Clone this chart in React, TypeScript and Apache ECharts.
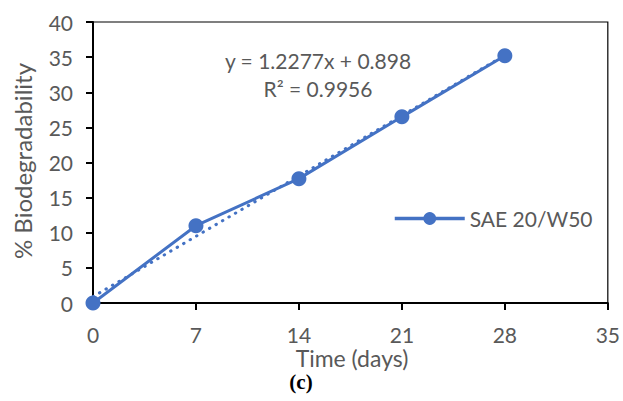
import React, { useEffect, useRef } from "react";
import * as echarts from "echarts";

const days = [0, 7, 14, 21, 28];
const biodeg = [0, 11.0, 17.7, 26.5, 35.2];
const trendX = [0, 28];
const trendY = [0.898, 35.274];
const seriesName = "SAE 20/W50";
const equationText = "y = 1.2277x + 0.898";
const r2Text = "R² = 0.9956";

const FONT = "Lato, 'Open Sans', sans-serif";
const GRAY = "#595959";
const BLUE = "#4472C4";

export default function App() {
  const ref = useRef<HTMLDivElement>(null);
  useEffect(() => {
    if (!ref.current) return;
    const chart = echarts.init(ref.current, undefined, { renderer: "svg" });
    chart.setOption({
      animation: false,
      grid: {
        left: 93,
        top: 22,
        right: 11,
        bottom: 98,
        show: true,
        borderColor: "#000",
        borderWidth: 1.2,
      },
      xAxis: {
        type: "value",
        min: 0,
        max: 35,
        interval: 7,
        axisLine: { show: true, lineStyle: { color: "#000", width: 2 } },
        axisTick: { show: true, inside: false, length: 7, lineStyle: { color: "#000", width: 2 } },
        axisLabel: { color: GRAY, fontSize: 21, fontFamily: FONT, margin: 21 },
        splitLine: { show: false },
      },
      yAxis: {
        type: "value",
        min: 0,
        max: 40,
        interval: 5,
        axisLine: { show: true, lineStyle: { color: "#000", width: 2 } },
        axisTick: { show: true, inside: false, length: 7, lineStyle: { color: "#000", width: 2 } },
        axisLabel: { color: GRAY, fontSize: 21, fontFamily: FONT, margin: 20 },
        splitLine: { show: false },
      },
      legend: {
        data: [seriesName],
        left: 393,
        top: 208,
        padding: 0,
        itemWidth: 70,
        itemHeight: 16,
        lineStyle: { width: 3.5, color: BLUE },
        textStyle: { color: GRAY, fontSize: 21, fontFamily: FONT },
      },
      series: [
        {
          name: "trend",
          type: "line",
          data: trendX.map((x, i) => [x, trendY[i]]),
          symbol: "none",
          lineStyle: { color: BLUE, width: 3, type: [0.5, 7], cap: "round" },
          z: 1,
          silent: true,
        },
        {
          name: seriesName,
          type: "line",
          data: days.map((d, i) => [d, biodeg[i]]),
          symbol: "circle",
          symbolSize: 15,
          itemStyle: { color: BLUE },
          lineStyle: { color: BLUE, width: 3 },
          z: 2,
        },
      ],
      graphic: [
        {
          type: "text",
          x: 318,
          y: 60,
          style: { text: equationText, fill: GRAY, fontSize: 21, fontFamily: FONT, align: "center", verticalAlign: "middle" },
        },
        {
          type: "text",
          x: 318,
          y: 88,
          style: { text: r2Text, fill: GRAY, fontSize: 21, fontFamily: FONT, align: "center", verticalAlign: "middle" },
        },
        {
          type: "text",
          x: 352,
          y: 358,
          style: { text: "Time (days)", fill: GRAY, fontSize: 23, fontFamily: FONT, align: "center", verticalAlign: "middle" },
        },
        {
          type: "text",
          x: 22,
          y: 161,
          rotation: Math.PI / 2,
          style: { text: "% Biodegradability", fill: GRAY, fontSize: 24, fontFamily: FONT, align: "center", verticalAlign: "middle" },
        },
        {
          type: "text",
          x: 301,
          y: 382,
          style: { text: "(c)", fill: "#000", fontSize: 21, fontWeight: "bold", fontFamily: "'Liberation Serif', 'Times New Roman', serif", align: "center", verticalAlign: "middle" },
        },
      ],
    });
    return () => chart.dispose();
  }, []);
  return (
    <div
      ref={ref}
      style={{ position: "absolute", left: 0, top: 0, width: 623, height: 401, background: "#fff" }}
    />
  );
}
